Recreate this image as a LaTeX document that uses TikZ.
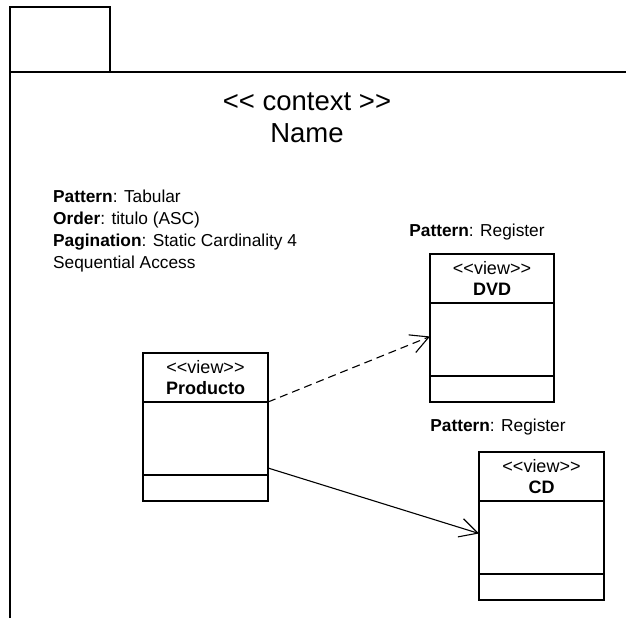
\documentclass[tikz,border=0pt]{standalone}
\usepackage{fontspec}
\setmainfont{Liberation Sans}
\usetikzlibrary{arrows.meta}
\usetikzlibrary{positioning}
\tikzset{umlhead/.style = {draw, line width = 1.7pt, inner sep = 0, outer sep = 0, minimum height = 49pt, align = center, font = \fontsize{18}{21}\selectfont}}
\tikzset{umlpart/.style = {draw, line width = 1.7pt, inner sep = 0, outer sep = 0}}
\tikzset{txt/.style = {inner sep = 0, font = \fontsize{17.3}{22}\selectfont}}
\tikzset{dep/.style = {line width = 1.1pt, -{Straight Barb[length = 18pt, width = 19pt]}}}

\begin{document}
\begin{tikzpicture}[x = 1pt, y = -1pt]
    \useasboundingbox (0, 0) rectangle (626, 618);
    % frame with tab
    \draw [line width = 1.7pt] (10, 618) -- (10, 7) -- (110, 7) -- (110, 72);
    \draw [line width = 1.7pt] (10, 72) -- (626, 72);
    \node [txt, align = center, font = \fontsize{27.5}{32}\selectfont] (ctx) at (307, 118) {<{}< context >{}>\\Name};
    \node [txt, anchor = west, align = left] (info) at (53, 231) {\textbf{Pattern}: Tabular\\\textbf{Order}: titulo (ASC)\\\textbf{Pagination}: Static Cardinality 4\\Sequential Access};
    % Producto
    \node [umlhead, minimum width = 125pt] (prodHead) at (205.5, 377.5) {<{}<view>{}>\\\textbf{Producto}};
    \node [umlpart, minimum width = 125pt, minimum height = 73pt, below = 0pt of prodHead] (prodAttr) {};
    \node [umlpart, minimum width = 125pt, minimum height = 26pt, below = 0pt of prodAttr] (prodOps) {};
    % DVD
    \node [txt] (dvdPat) at (477, 232) {\textbf{Pattern}: Register};
    \node [umlhead, minimum width = 124pt] (dvdHead) at (492, 278.5) {<{}<view>{}>\\\textbf{DVD}};
    \node [umlpart, minimum width = 124pt, minimum height = 73pt, below = 0pt of dvdHead] (dvdAttr) {};
    \node [umlpart, minimum width = 124pt, minimum height = 26pt, below = 0pt of dvdAttr] (dvdOps) {};
    % CD
    \node [txt] (cdPat) at (498, 427) {\textbf{Pattern}: Register};
    \node [umlhead, minimum width = 125pt] (cdHead) at (541.5, 476.5) {<{}<view>{}>\\\textbf{CD}};
    \node [umlpart, minimum width = 125pt, minimum height = 73pt, below = 0pt of cdHead] (cdAttr) {};
    \node [umlpart, minimum width = 125pt, minimum height = 26pt, below = 0pt of cdAttr] (cdOps) {};
    % links
    \draw [dep, dash pattern = on 8pt off 5pt] (prodHead.south east) -- ([yshift = 3pt]dvdAttr.west);
    \draw [dep] ([yshift = 7pt]prodAttr.south east) -- ([yshift = 4pt]cdAttr.west);
\end{tikzpicture}
\end{document}
